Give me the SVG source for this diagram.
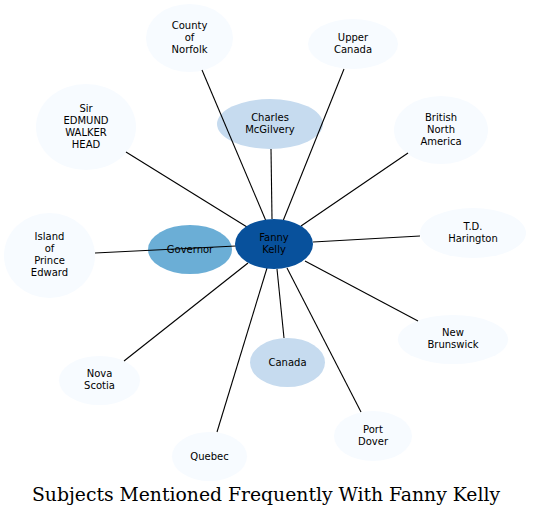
<svg xmlns="http://www.w3.org/2000/svg" width="533" height="517" viewBox="0 0 533 517">
<style>
.n text{font-family:"DejaVu Sans",sans-serif;font-size:10px;text-anchor:middle;fill:#000}
.l0{fill:#f7fbff}
.l1{fill:#c6dbef}
.l2{fill:#6baed6}
.l3{fill:#08519c}
#edges line{stroke:#000;stroke-width:1.1}
.title{font-family:"DejaVu Serif",serif;font-size:19px;text-anchor:middle;fill:#000}
</style>
<rect width="533" height="517" fill="#fff"/>
<g id="node-norfolk" class="n"><ellipse class="l0" cx="189.5" cy="38" rx="43.5" ry="34"/><text x="189.5" y="29">County</text><text x="189.5" y="41">of</text><text x="189.5" y="53">Norfolk</text></g>
<g id="node-upper" class="n"><ellipse class="l0" cx="353" cy="44" rx="45" ry="25"/><text x="353" y="41">Upper</text><text x="353" y="53">Canada</text></g>
<g id="node-charles" class="n"><ellipse class="l1" cx="270" cy="124" rx="53" ry="25"/><text x="270" y="121">Charles</text><text x="270" y="133">McGilvery</text></g>
<g id="node-head" class="n"><ellipse class="l0" cx="86" cy="127" rx="50" ry="43"/><text x="86" y="112">Sir</text><text x="86" y="124">EDMUND</text><text x="86" y="136">WALKER</text><text x="86" y="148">HEAD</text></g>
<g id="node-bna" class="n"><ellipse class="l0" cx="441" cy="130" rx="47" ry="34"/><text x="441" y="121">British</text><text x="441" y="133">North</text><text x="441" y="145">America</text></g>
<g id="node-island" class="n"><ellipse class="l0" cx="49.5" cy="255.5" rx="45.5" ry="42.5"/><text x="49.5" y="240">Island</text><text x="49.5" y="252">of</text><text x="49.5" y="264">Prince</text><text x="49.5" y="276">Edward</text></g>
<g id="node-governor" class="n"><ellipse class="l2" cx="190" cy="249.5" rx="42" ry="24.5"/><text x="190" y="253">Governor</text></g>
<g id="node-td" class="n"><ellipse class="l0" cx="473" cy="233" rx="53" ry="25"/><text x="473" y="230">T.D.</text><text x="473" y="242">Harington</text></g>
<g id="node-nb" class="n"><ellipse class="l0" cx="453" cy="339.5" rx="55" ry="24.5"/><text x="453" y="336">New</text><text x="453" y="348">Brunswick</text></g>
<g id="node-canada" class="n"><ellipse class="l1" cx="287.5" cy="362.5" rx="37.5" ry="24.5"/><text x="287.5" y="366">Canada</text></g>
<g id="node-nova" class="n"><ellipse class="l0" cx="99.5" cy="380.5" rx="40.5" ry="24.5"/><text x="99.5" y="377">Nova</text><text x="99.5" y="389">Scotia</text></g>
<g id="node-quebec" class="n"><ellipse class="l0" cx="209.5" cy="456.5" rx="37.5" ry="24.5"/><text x="209.5" y="460">Quebec</text></g>
<g id="node-dover" class="n"><ellipse class="l0" cx="373" cy="436" rx="39" ry="25"/><text x="373" y="433">Port</text><text x="373" y="445">Dover</text></g>
<g id="edges">
<line x1="202" y1="70" x2="266" y2="221"/>
<line x1="344" y1="69" x2="283" y2="221"/>
<line x1="271" y1="149" x2="272" y2="219"/>
<line x1="126" y1="152" x2="247" y2="227"/>
<line x1="95" y1="253" x2="236" y2="246"/>
<line x1="408" y1="153" x2="301" y2="226"/>
<line x1="420" y1="236" x2="313" y2="242"/>
<line x1="418" y1="321" x2="305" y2="261"/>
<line x1="284" y1="338" x2="277" y2="269"/>
<line x1="361" y1="412" x2="287" y2="268"/>
<line x1="217" y1="432" x2="267" y2="268"/>
<line x1="124" y1="361" x2="248" y2="263"/>
</g>
<g id="node-fanny" class="n"><ellipse class="l3" cx="274" cy="244" rx="39" ry="25"/><text x="274" y="241">Fanny</text><text x="274" y="253">Kelly</text></g>
<text class="title" x="266" y="501" textLength="468" lengthAdjust="spacingAndGlyphs">Subjects Mentioned Frequently With Fanny Kelly</text>
</svg>
